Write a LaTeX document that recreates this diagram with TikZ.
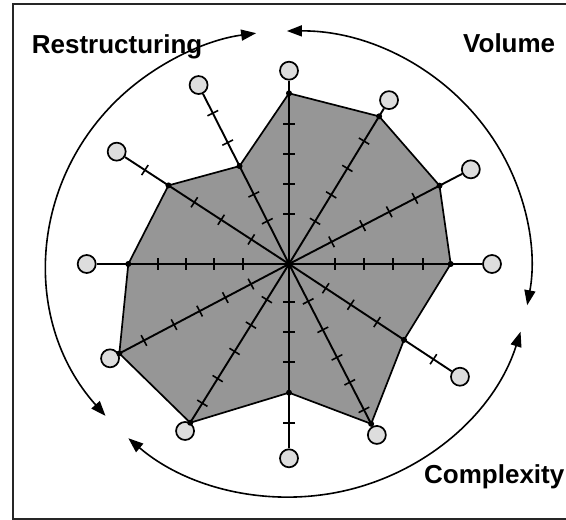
\documentclass[tikz,border=0pt]{standalone}
\usepackage{fontspec}
\setmainfont{Liberation Sans}
\usetikzlibrary{arrows.meta,calc}
\definecolor{areagray}{HTML}{969696}
\definecolor{ballgray}{HTML}{DDDDDD}
\begin{document}
\begin{tikzpicture}[x=1pt,y=1pt,
  spoke/.style={line width=1.9pt},
  tickmark/.style={line width=1.6pt},
  endball/.style={circle, draw, line width=1.7pt, fill=ballgray, minimum size=18pt, inner sep=0pt},
  datadot/.style={circle, fill=black, minimum size=6pt, inner sep=0pt},
  area/.style={fill=areagray, draw=black, line width=1.7pt, line join=miter},
  cyclearrow/.style={line width=1.6pt, {Triangle[length=15pt,width=11pt]}-{Triangle[length=15pt,width=11pt]}},
  cyclename/.style={font=\bfseries\fontsize{26}{30}\selectfont, anchor=base west, inner sep=0pt}
]
\clip (0,0) rectangle (566,520);
% outer frame
\draw[line width=2.2pt, black!85] (13,1) rectangle (600,516);

\coordinate (C) at (289,256);

% axis end points and data values (angle / axis length / value)
\foreach \i/\a/\L/\D in {
  1/90/193.3/170.7, 2/58.6/192/173, 3/27.5/205/169.7, 4/0/203/161.7,
  5/-33.4/204.8/137.8, 6/-62.8/192.2/179.7, 7/-90/194.3/128.7, 8/-121.9/196.7/187,
  9/-152.2/202.3/191.8, 10/180/202.3/160.7, 11/146.9/205.7/143.9, 12/116.8/200.5/109.7} {
  \coordinate (d\i) at ($(C)+(\a:\D)$);
  \coordinate (e\i) at ($(C)+(\a:\L)$);
}

% value polygon
\filldraw[area] (d1) -- (d2) -- (d3) -- (d4) -- (d5) -- (d6) -- (d7) -- (d8)
  -- (d9) -- (d10) -- (d11) -- (d12) -- cycle;

% axes with scale ticks and end balls
\foreach \i/\a/\T in {
  1/90/{50,80,110,140}, 2/58.6/{50,81,112,144}, 3/27.5/{48,83,113,142},
  4/0/{46,75,104,134}, 5/-33.4/{44,74,105.5,173}, 6/-62.8/{42,74,105,133,164},
  7/-90/{38,68,98,159}, 8/-121.9/{42,72,103,135,164}, 9/-152.2/{43,72,101,130,164},
  10/180/{46,75,103,131}, 11/146.9/{45,81,113,172}, 12/116.8/{48,78,136,169}} {
  \node[endball] (s\i) at (e\i) {};
  \draw[spoke] (C) -- (s\i);
  \foreach \t in \T {
    \draw[tickmark] ($(C)+(\a:\t)+(\a+90:6)$) -- ($(C)+(\a:\t)+(\a-90:6)$);
  }
  \node[datadot] (p\i) at (d\i) {};
}

% cycle arrows around the chart
\coordinate (r1) at ($(C)+(220.7:242pt and 233pt)$);
\coordinate (v1) at ($(C)+(90.5:242pt and 233pt)$);
\coordinate (c1) at ($(C)+(-16.9:242pt and 233pt)$);
\draw[cyclearrow] (r1) arc[start angle=220.7, end angle=97.8, x radius=242pt, y radius=233pt];
\draw[cyclearrow] (v1) arc[start angle=90.5, end angle=-10.2, x radius=242pt, y radius=233pt];
\draw[cyclearrow] (c1) arc[start angle=-16.9, end angle=-131.6, x radius=242pt, y radius=233pt];

% phase names
\node[cyclename] (restructuring) at (31.7,466.7) {Restructuring};
\node[cyclename] (volume) at (463,467.3) {Volume};
\node[cyclename] (complexity) at (424,36) {Complexity};
\end{tikzpicture}
\end{document}
